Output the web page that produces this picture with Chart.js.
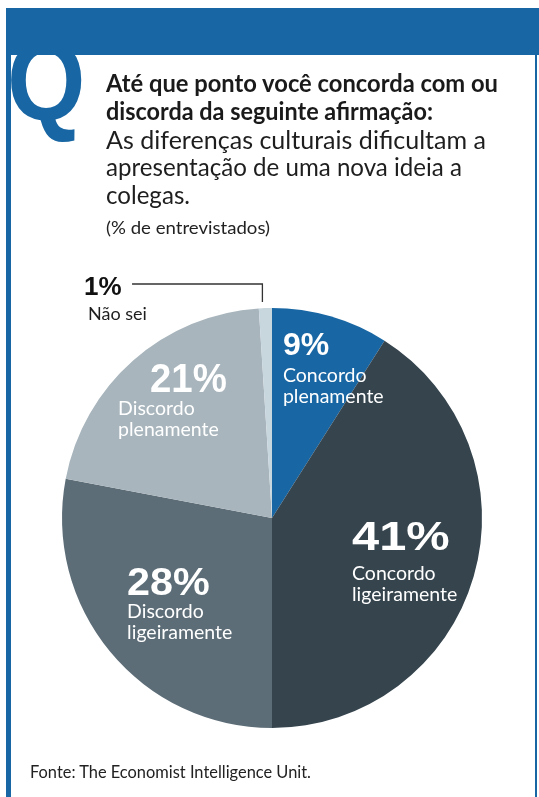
<!DOCTYPE html>
<html lang="pt">
<head>
<meta charset="utf-8">
<script src="https://cdn.jsdelivr.net/npm/chart.js@4.4.1/dist/chart.umd.min.js"></script>
<style>
  html, body { margin: 0; padding: 0; background: #ffffff; }
  body { width: 539px; height: 797px; position: relative; overflow: hidden; font-family: Lato, "Noto Sans", sans-serif; color: #1c1c1c; }
  #band { position: absolute; left: 6px; top: 8px; width: 533px; height: 47px; background: #1866a3; z-index: 3; }
  #leftRule { position: absolute; left: 6px; top: 8px; width: 5px; height: 789px; background: #1866a3; z-index: 3; }
  #rightRule { position: absolute; left: 535px; top: 8px; width: 2px; height: 789px; background: #1866a3; z-index: 3; }
  #q { position: absolute; left: 7px; top: 25px; font-family: "Liberation Sans", Arial, sans-serif; font-weight: 700; font-size: 104px; line-height: 104px; color: #1866a3; z-index: 2; transform: scale(0.97, 1.08); transform-origin: 0 0; }
  .t { position: absolute; left: 106px; white-space: nowrap; z-index: 4; line-height: 1; transform-origin: 0 0; }
  .b { font-weight: 700; font-size: 24px; color: #1a1a1a; }
  .r { font-weight: 400; font-size: 25px; color: #1e1e1e; }
  #unit { font-size: 18px; color: #222; }
  #src { left: 30px; font-size: 16.5px; color: #222; }
  #chart { position: absolute; left: 0; top: 0; z-index: 1; }
</style>
</head>
<body>
<div id="band"></div>
<div id="leftRule"></div>
<div id="rightRule"></div>
<div id="q">Q</div>
<div class="t b" data-fit="392" style="top:71px">Até que ponto você concorda com ou</div>
<div class="t b" data-fit="327" style="top:99px">discorda da seguinte afirmação:</div>
<div class="t r" data-fit="380" style="top:127px">As diferenças culturais dificultam a</div>
<div class="t r" data-fit="356" style="top:154px">apresentação de uma nova ideia a</div>
<div class="t r" data-fit="84" style="top:182px">colegas.</div>
<div class="t" id="unit" data-fit="164" style="top:218px">(% de entrevistados)</div>
<div class="t" id="src" data-fit="281" style="top:764px">Fonte: The Economist Intelligence Unit.</div>
<canvas id="chart" width="539" height="797"></canvas>
<script>
// Survey answers, clockwise from the top
const categories = ['Concordo plenamente', 'Concordo ligeiramente', 'Discordo ligeiramente', 'Discordo plenamente', 'Não sei'];
const shares = [9, 41, 28, 21, 1];
const sliceColors = ['#1866a3', '#35444d', '#5d6d77', '#a8b5bc', '#c8d6de'];

// Squeeze or stretch each header line to its set width
document.querySelectorAll('[data-fit]').forEach(el => {
  const w = el.getBoundingClientRect().width;
  el.style.transform = `scaleX(${(+el.dataset.fit / w).toFixed(4)})`;
});

// Label placement per slice, in units of the pie radius from its centre
const labelLayout = [
  { num: [0.052, -0.776], text: [0.052, -0.648], numSize: 32, numScale: 1.0, color: '#ffffff' },
  { num: [0.381, 0.152], text: [0.381, 0.295], numSize: 40, numScale: 1.22, color: '#ffffff' },
  { num: [-0.69, 0.367], text: [-0.69, 0.476], numSize: 39, numScale: 1.06, color: '#ffffff' },
  { num: [-0.581, -0.6], text: [-0.733, -0.49], numSize: 40, numScale: 0.96, color: '#ffffff' },
  { num: [-0.895, -1.062], text: [-0.876, -0.943], numSize: 26, numScale: 1.0, color: '#111111', leader: true }
];

function splitName(name, oneLine) {
  const i = name.indexOf(' ');
  return (oneLine || i < 0) ? [name] : [name.slice(0, i), name.slice(i + 1)];
}

const sliceLabels = {
  id: 'sliceLabels',
  afterDatasetsDraw(chart) {
    const ctx = chart.ctx;
    const arcs = chart.getDatasetMeta(0).data;
    const values = chart.data.datasets[0].data;
    arcs.forEach((arc, i) => {
      const L = labelLayout[i];
      const R = arc.outerRadius;
      const cx = arc.x, cy = arc.y;
      ctx.save();
      // percentage
      ctx.fillStyle = L.color;
      ctx.textBaseline = 'alphabetic';
      ctx.textAlign = 'left';
      ctx.font = `700 ${L.numSize}px "Liberation Sans", Arial, sans-serif`;
      ctx.translate(cx + L.num[0] * R, cy + L.num[1] * R);
      ctx.scale(L.numScale, 1);
      ctx.fillText(values[i] + '%', 0, 0);
      ctx.restore();
      // category name
      ctx.save();
      ctx.fillStyle = L.leader ? '#1e1e1e' : L.color;
      ctx.font = `400 ${L.leader ? 18 : 19.5}px Lato, "Noto Sans", sans-serif`;
      splitName(chart.data.labels[i], L.leader).reduce((y, line) => {
        ctx.fillText(line, cx + L.text[0] * R, y);
        return y + 21;
      }, cy + L.text[1] * R);
      ctx.restore();
      if (L.leader) {
        const mid = (arc.startAngle + arc.endAngle) / 2;
        const ex = cx + Math.cos(mid) * R - 3;
        const ey = cy + Math.sin(mid) * R - 6;
        const lineY = cy + L.num[1] * R - 11;
        const startX = cx + L.num[0] * R + 48;
        ctx.save();
        ctx.strokeStyle = '#333333';
        ctx.lineWidth = 1.3;
        ctx.beginPath();
        ctx.moveTo(startX, lineY);
        ctx.lineTo(ex, lineY);
        ctx.lineTo(ex, ey);
        ctx.stroke();
        ctx.restore();
      }
    });
  }
};

new Chart(document.getElementById('chart'), {
  type: 'pie',
  data: {
    labels: categories,
    datasets: [{
      data: shares,
      backgroundColor: sliceColors,
      borderWidth: 0,
      hoverOffset: 0,
      offset: 0
    }]
  },
  options: {
    responsive: false,
    animation: false,
    layout: { padding: { left: 62, right: 57, top: 308, bottom: 69 } },
    plugins: { legend: { display: false }, tooltip: { enabled: false } }
  },
  plugins: [sliceLabels]
});
</script>
</body>
</html>
